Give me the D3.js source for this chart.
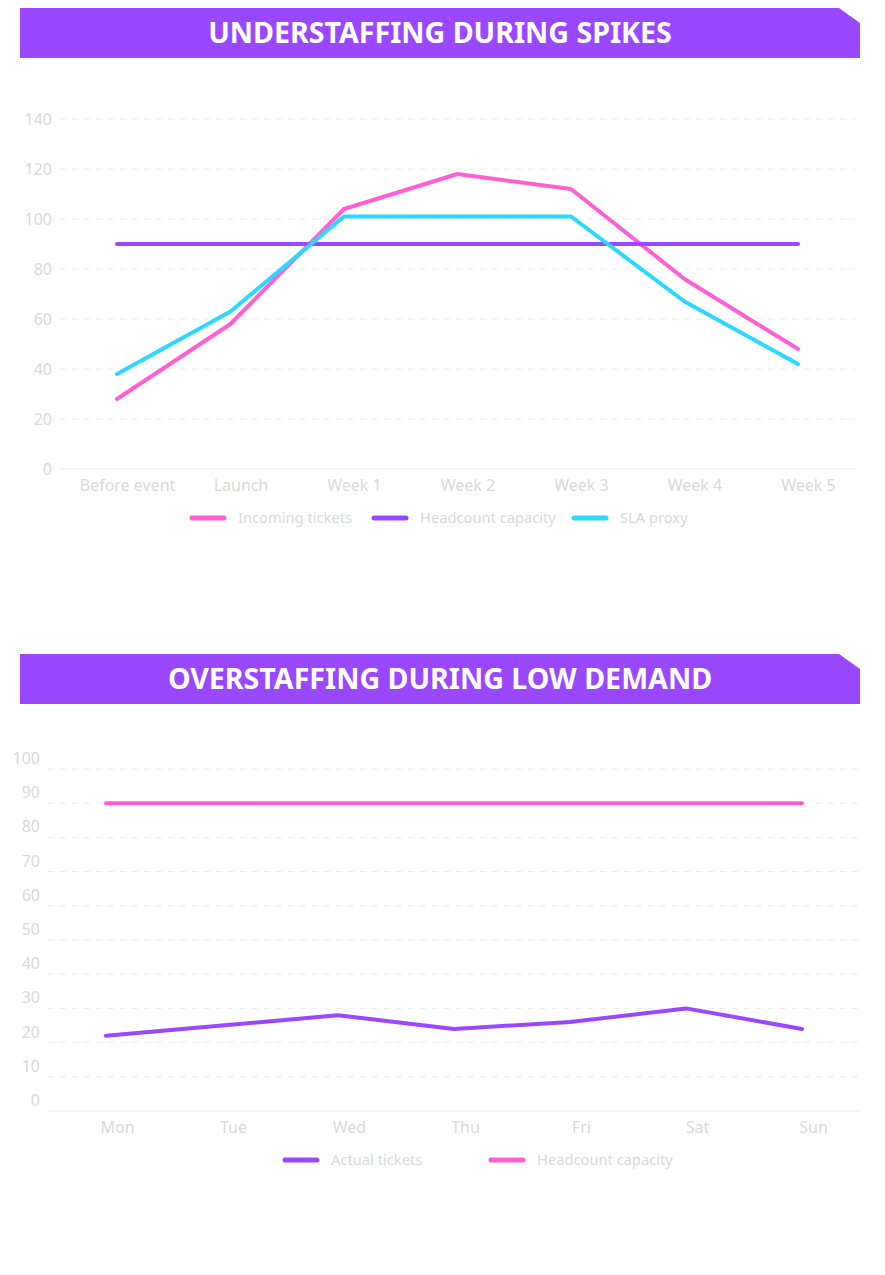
<!DOCTYPE html>
<html>
<head>
<meta charset="utf-8">
<script src="https://cdn.jsdelivr.net/npm/d3@7"></script>
<style>
  body { margin: 0; background: #fff; }
  svg text { font-family: "Noto Sans", "Open Sans", sans-serif; }
</style>
</head>
<body>
<div id="chartSection"></div>
<script>
// chart 1
var spikeCategories = ["Before event", "Launch", "Week 1", "Week 2", "Week 3", "Week 4", "Week 5"];
var incomingTickets = [28, 58, 104, 118, 112, 76, 48];
var headcountSpike = [90, 90, 90, 90, 90, 90, 90];
var slaProxy = [38, 63, 101, 101, 101, 67, 42];
var spikeTicks = [0, 20, 40, 60, 80, 100, 120, 140];

// chart 2
var dayCategories = ["Mon", "Tue", "Wed", "Thu", "Fri", "Sat", "Sun"];
var actualTickets = [22, 25, 28, 24, 26, 30, 24];
var headcountLow = [90, 90, 90, 90, 90, 90, 90];
var lowTicks = [0, 10, 20, 30, 40, 50, 60, 70, 80, 90, 100];

var PINK = "#ff5fd2", PURPLE = "#9a48ff", CYAN = "#2cd8ff";
var TXT = "#d9d9d9", GRID = "#ececec";

var svg = d3.select("#chartSection").append("svg")
    .attr("width", 885).attr("height", 1275);

function header(top, title) {
    var g = svg.append("g");
    var x0 = 20, x1 = 860, h = 50;
    g.append("path")
        .attr("d", `M${x0},${top} L${x1 - 21},${top} L${x1},${top + 15} L${x1},${top + h} L${x0},${top + h} Z`)
        .attr("fill", PURPLE);
    g.append("text")
        .attr("x", 440).attr("y", top + 35)
        .attr("text-anchor", "middle")
        .attr("fill", "#fff")
        .attr("font-size", 28.6)
        .attr("font-weight", 700)
        .text(title);
}

function lineChart(o) {
    var g = svg.append("g");

    var x = d3.scalePoint().domain(o.categories).range([o.px0, o.px1]);
    var y = d3.scaleLinear().domain([0, d3.max(o.ticks)]).range([o.bottom, o.top]);

    // grid
    g.append("g").selectAll("line")
        .data(o.ticks.filter(d => d > 0))
        .enter().append("line")
        .attr("x1", o.gx0).attr("x2", o.gx1)
        .attr("y1", d => y(d)).attr("y2", d => y(d))
        .attr("stroke", GRID).attr("stroke-dasharray", "6,6");
    g.append("line")
        .attr("x1", o.gx0).attr("x2", o.gx1)
        .attr("y1", y(0)).attr("y2", y(0))
        .attr("stroke", GRID);

    // y axis
    var yAxis = d3.axisLeft(y).tickValues(o.ticks).tickSize(0).tickPadding(0);
    var ya = g.append("g").attr("transform", `translate(${o.labelRight},0)`).call(yAxis);
    ya.select(".domain").remove();
    ya.selectAll("text")
        .attr("fill", TXT).attr("font-size", 16)
        .attr("dy", o.labelDy);

    // x axis
    var xAxis = d3.axisBottom(x).tickSize(0).tickPadding(0);
    var xa = g.append("g").attr("transform", `translate(${o.labelDx},${o.xLabelY})`).call(xAxis);
    xa.select(".domain").remove();
    xa.selectAll("text").attr("fill", TXT).attr("font-size", 16).attr("dy", "0.32em");

    // lines
    var line = d3.line().x((d, i) => x(o.categories[i])).y(d => y(d));
    o.series.forEach(function(s) {
        g.append("path")
            .datum(s.values)
            .attr("d", line)
            .attr("fill", "none")
            .attr("stroke", s.color)
            .attr("stroke-width", 4)
            .attr("stroke-linecap", "round")
            .attr("stroke-linejoin", "round");
    });

    // legend
    var lg = g.append("g");
    o.series.forEach(function(s, i) {
        var lx = o.legendX[i];
        lg.append("line")
            .attr("x1", lx).attr("x2", lx + 32)
            .attr("y1", o.legendY).attr("y2", o.legendY)
            .attr("stroke", s.color).attr("stroke-width", 5)
            .attr("stroke-linecap", "round");
        lg.append("text")
            .attr("x", lx + 46).attr("y", o.legendY)
            .attr("dy", "0.35em")
            .attr("fill", TXT).attr("font-size", 14.7)
            .text(s.name);
    });
}

header(8, "UNDERSTAFFING DURING SPIKES");
lineChart({
    categories: spikeCategories,
    ticks: spikeTicks,
    px0: 117, px1: 798,
    gx0: 60, gx1: 855,
    top: 119, bottom: 469,
    labelRight: 52, labelDy: "0.32em",
    labelDx: 10, xLabelY: 486,
    legendY: 518, legendX: [192, 374, 574],
    series: [
        { name: "Incoming tickets", values: incomingTickets, color: PINK },
        { name: "Headcount capacity", values: headcountSpike, color: PURPLE },
        { name: "SLA proxy", values: slaProxy, color: CYAN }
    ]
});

header(654, "OVERSTAFFING DURING LOW DEMAND");
lineChart({
    categories: dayCategories,
    ticks: lowTicks,
    px0: 106, px1: 802,
    gx0: 48, gx1: 860,
    top: 769, bottom: 1111,
    labelRight: 40, labelDy: "-0.35em",
    labelDx: 11, xLabelY: 1128,
    legendY: 1160, legendX: [285, 491],
    series: [
        { name: "Actual tickets", values: actualTickets, color: PURPLE },
        { name: "Headcount capacity", values: headcountLow, color: PINK }
    ]
});
</script>
</body>
</html>
